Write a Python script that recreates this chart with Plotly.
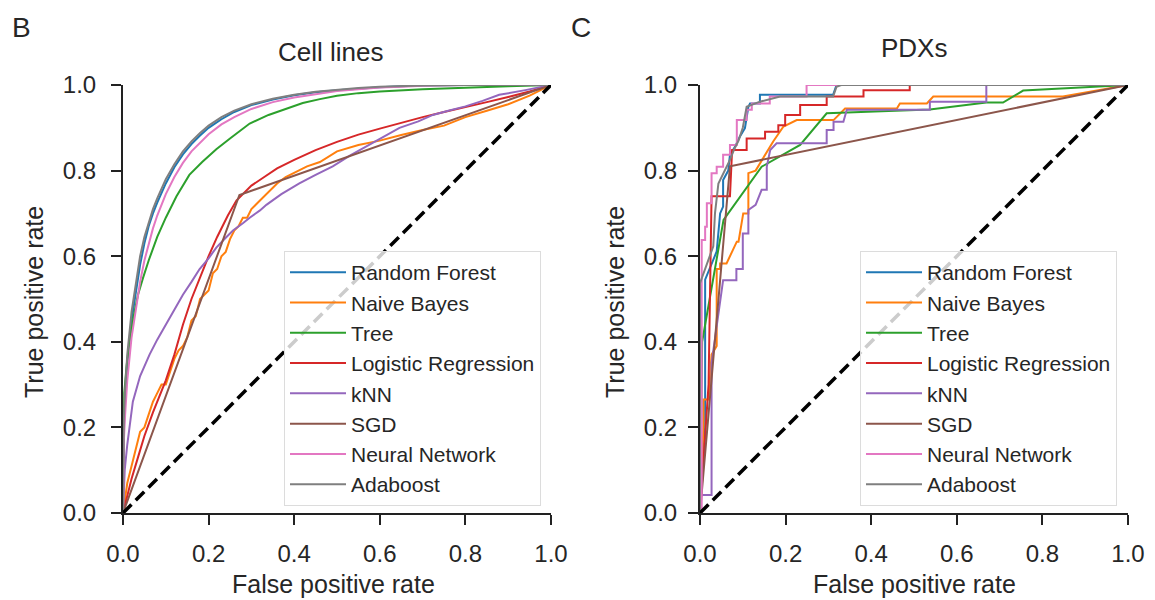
import plotly.graph_objects as go

# ---------------- data ----------------
model_names = ["Random Forest", "Naive Bayes", "Tree", "Logistic Regression",
               "kNN", "SGD", "Neural Network", "Adaboost"]
model_colors = ["#1f77b4", "#ff7f0e", "#2ca02c", "#d62728",
                "#9467bd", "#8c564b", "#e377c2", "#7f7f7f"]
tick_vals = [0.0, 0.2, 0.4, 0.6, 0.8, 1.0]
tick_text = ["0.0", "0.2", "0.4", "0.6", "0.8", "1.0"]
panel_titles = ["Cell lines", "PDXs"]
panel_letters = ["B", "C"]
x_title = "False positive rate"
y_title = "True positive rate"

# ---- Cell lines ROC curves ----
cell_ens_x = [0, 0.002, 0.005, 0.01, 0.02, 0.03, 0.04, 0.05, 0.06, 0.07, 0.08, 0.1, 0.12, 0.14,
              0.16, 0.18, 0.2, 0.23, 0.26, 0.3, 0.35, 0.4, 0.45, 0.5, 0.55, 0.6, 0.65, 0.7, 0.8, 0.9, 1.0]
cell_ada_y = [0, 0.22, 0.29, 0.37, 0.47, 0.54, 0.6, 0.645, 0.68, 0.71, 0.735, 0.78, 0.815, 0.845,
              0.868, 0.888, 0.905, 0.925, 0.94, 0.955, 0.968, 0.977, 0.984, 0.989, 0.993, 0.996, 0.998, 0.999, 1.0, 1.0, 1.0]
cell_rf_y = [0, 0.2, 0.27, 0.35, 0.45, 0.52, 0.58, 0.63, 0.67, 0.70, 0.725, 0.77, 0.808, 0.838,
             0.862, 0.882, 0.9, 0.92, 0.937, 0.953, 0.966, 0.976, 0.983, 0.988, 0.992, 0.995, 0.997, 0.999, 1.0, 1.0, 1.0]
cell_nn_y = [0, 0.17, 0.23, 0.31, 0.41, 0.48, 0.54, 0.59, 0.63, 0.665, 0.695, 0.745, 0.785, 0.818,
             0.845, 0.866, 0.885, 0.908, 0.925, 0.944, 0.96, 0.971, 0.979, 0.986, 0.99, 0.994, 0.996, 0.998, 1.0, 1.0, 1.0]
cell_tree_x = [0, 0.003, 0.008, 0.015, 0.025, 0.035, 0.047, 0.06, 0.08, 0.1, 0.125, 0.155, 0.185, 0.218,
               0.25, 0.296, 0.34, 0.381, 0.42, 0.46, 0.5, 0.55, 0.6, 0.7, 0.8, 0.9, 1.0]
cell_tree_y = [0, 0.28, 0.34, 0.40, 0.46, 0.51, 0.55, 0.59, 0.645, 0.69, 0.74, 0.79, 0.82, 0.85,
               0.875, 0.91, 0.93, 0.945, 0.958, 0.967, 0.975, 0.981, 0.985, 0.99, 0.994, 0.997, 1.0]
cell_lr_x = [0, 0.01, 0.02, 0.035, 0.05, 0.07, 0.1, 0.12, 0.14, 0.16, 0.18, 0.2, 0.22, 0.245, 0.265,
             0.28, 0.3, 0.33, 0.36, 0.4, 0.45, 0.5, 0.55, 0.6, 0.65, 0.7, 0.75, 0.8, 0.85, 0.9, 0.95, 1.0]
cell_lr_y = [0, 0.04, 0.08, 0.13, 0.18, 0.235, 0.31, 0.37, 0.44, 0.5, 0.55, 0.6, 0.645, 0.695, 0.73,
             0.745, 0.765, 0.785, 0.805, 0.825, 0.848, 0.867, 0.884, 0.898, 0.912, 0.925, 0.937, 0.948, 0.96, 0.972, 0.985, 1.0]
cell_nb_x = [0, 0.005, 0.01, 0.02, 0.03, 0.04, 0.05, 0.06, 0.07, 0.08, 0.09, 0.1, 0.11, 0.12, 0.13, 0.14,
             0.15, 0.16, 0.17, 0.18, 0.19, 0.2, 0.21, 0.22, 0.23, 0.24, 0.25, 0.26, 0.27, 0.28, 0.29, 0.3,
             0.32, 0.34, 0.36, 0.38, 0.4, 0.43, 0.46, 0.5, 0.55, 0.6, 0.65, 0.7, 0.75, 0.8, 0.85, 0.9, 0.95, 1.0]
cell_nb_y = [0, 0.04, 0.07, 0.11, 0.15, 0.19, 0.2, 0.23, 0.26, 0.28, 0.3, 0.3, 0.33, 0.36, 0.38, 0.39,
             0.41, 0.45, 0.46, 0.5, 0.51, 0.52, 0.56, 0.57, 0.6, 0.61, 0.64, 0.66, 0.67, 0.69, 0.69, 0.71,
             0.73, 0.75, 0.77, 0.785, 0.795, 0.81, 0.82, 0.845, 0.86, 0.87, 0.883, 0.895, 0.905, 0.925, 0.94, 0.955, 0.975, 1.0]
cell_knn_x = [0, 0.002, 0.004, 0.01, 0.023, 0.04, 0.062, 0.08, 0.1, 0.12, 0.14, 0.16, 0.179, 0.2, 0.218,
              0.24, 0.257, 0.28, 0.296, 0.32, 0.335, 0.37, 0.412, 0.45, 0.49, 0.53, 0.568, 0.6, 0.646,
              0.69, 0.724, 0.76, 0.8, 0.84, 0.879, 0.94, 1.0]
cell_knn_y = [0, 0.06, 0.1, 0.16, 0.26, 0.32, 0.37, 0.405, 0.44, 0.475, 0.51, 0.54, 0.57, 0.595, 0.62,
              0.643, 0.66, 0.677, 0.69, 0.707, 0.72, 0.745, 0.77, 0.79, 0.81, 0.835, 0.856, 0.875, 0.9,
              0.915, 0.93, 0.94, 0.95, 0.963, 0.977, 0.988, 1.0]
cell_sgd_x = [0, 0.272, 1.0]
cell_sgd_y = [0, 0.743, 1.0]

# ---- PDX ROC curves ----
pdx_rf_x = [0, 0.005, 0.012, 0.012, 0.039, 0.047, 0.054, 0.054, 0.066, 0.07, 0.082, 0.093, 0.105,
            0.113, 0.117, 0.14, 0.14, 0.311, 0.319, 1.0]
pdx_rf_y = [0, 0.1, 0.2, 0.545, 0.611, 0.70, 0.716, 0.778, 0.80, 0.837, 0.856, 0.879, 0.899,
            0.949, 0.957, 0.957, 0.977, 0.977, 1.0, 1.0]
pdx_nb_x = [0, 0.008, 0.008, 0.02, 0.027, 0.039, 0.039, 0.047, 0.047, 0.062, 0.086, 0.09, 0.101,
            0.113, 0.113, 0.13, 0.171, 0.195, 0.226, 0.312, 0.339, 0.46, 0.467, 0.53, 0.545, 0.848, 1.0]
pdx_nb_y = [0, 0.2, 0.265, 0.265, 0.37, 0.39, 0.57, 0.57, 0.583, 0.583, 0.634, 0.634, 0.70,
            0.70, 0.794, 0.80, 0.868, 0.903, 0.918, 0.918, 0.945, 0.945, 0.957, 0.957, 0.973, 0.973, 1.0]
pdx_tree_x = [0, 0.005, 0.055, 0.144, 0.234, 0.296, 0.537, 0.669, 0.708, 0.755, 1.0]
pdx_tree_y = [0, 0.40, 0.685, 0.809, 0.86, 0.934, 0.943, 0.959, 0.959, 0.987, 1.0]
pdx_lr_x = [0, 0.02, 0.027, 0.07, 0.075, 0.109, 0.109, 0.152, 0.152, 0.183, 0.183, 0.199, 0.199,
            0.234, 0.234, 0.296, 0.296, 0.382, 0.382, 0.49, 0.49, 1.0]
pdx_lr_y = [0, 0.3, 0.74, 0.74, 0.848, 0.848, 0.875, 0.875, 0.891, 0.891, 0.906, 0.906, 0.93,
            0.93, 0.953, 0.953, 0.973, 0.973, 0.988, 0.988, 1.0, 1.0]
pdx_knn_x = [0, 0, 0.027, 0.027, 0.054, 0.085, 0.085, 0.1, 0.1, 0.113, 0.113, 0.13, 0.144, 0.156,
             0.156, 0.164, 0.179, 0.296, 0.296, 0.312, 0.312, 0.335, 0.343, 0.537, 0.537, 0.669, 0.669, 1.0]
pdx_knn_y = [0, 0.042, 0.042, 0.35, 0.544, 0.544, 0.57, 0.57, 0.653, 0.653, 0.708, 0.72, 0.755, 0.755,
             0.809, 0.848, 0.864, 0.864, 0.895, 0.895, 0.914, 0.914, 0.942, 0.942, 0.961, 0.961, 1.0, 1.0]
pdx_sgd_x = [0, 0.07, 1.0]
pdx_sgd_y = [0, 0.81, 1.0]
pdx_nn_x = [0, 0.004, 0.004, 0.012, 0.012, 0.016, 0.016, 0.027, 0.027, 0.039, 0.039, 0.054, 0.054,
            0.07, 0.07, 0.086, 0.086, 0.109, 0.109, 0.121, 0.121, 0.163, 0.163, 0.249, 0.249, 1.0]
pdx_nn_y = [0, 0.0, 0.638, 0.638, 0.669, 0.669, 0.724, 0.724, 0.794, 0.794, 0.809, 0.809, 0.837,
            0.837, 0.86, 0.86, 0.918, 0.918, 0.942, 0.942, 0.957, 0.957, 0.973, 0.973, 1.0, 1.0]
pdx_ada_x = [0, 0, 0.031, 0.035, 0.043, 0.07, 0.08, 0.09, 0.1, 0.109, 0.14, 0.187, 0.311, 0.319, 0.33, 1.0]
pdx_ada_y = [0, 0.537, 0.623, 0.70, 0.77, 0.825, 0.85, 0.87, 0.9, 0.949, 0.961, 0.973, 0.973, 0.996, 1.0, 1.0]

diag_x = [0, 1]
diag_y = [0, 1]

cell_curves = [(cell_ens_x, cell_rf_y), (cell_nb_x, cell_nb_y), (cell_tree_x, cell_tree_y),
               (cell_lr_x, cell_lr_y), (cell_knn_x, cell_knn_y), (cell_sgd_x, cell_sgd_y),
               (cell_ens_x, cell_nn_y), (cell_ens_x, cell_ada_y)]
pdx_curves = [(pdx_rf_x, pdx_rf_y), (pdx_nb_x, pdx_nb_y), (pdx_tree_x, pdx_tree_y),
              (pdx_lr_x, pdx_lr_y), (pdx_knn_x, pdx_knn_y), (pdx_sgd_x, pdx_sgd_y),
              (pdx_nn_x, pdx_nn_y), (pdx_ada_x, pdx_ada_y)]

# ---------------- figure ----------------
OFF = 8                      # page body margin of the html page
W, H = 1155 - OFF, 600 - OFF
FONT = "Liberation Sans, Arial, Helvetica, sans-serif"
TXT = "#262626"

fig = go.Figure()

for panel, curves in enumerate([cell_curves, pdx_curves]):
    xa = "x" if panel == 0 else "x2"
    ya = "y" if panel == 0 else "y2"
    lg = "legend" if panel == 0 else "legend2"
    for i, (xs, ys) in enumerate(curves):
        fig.add_trace(go.Scatter(
            x=xs, y=ys, mode="lines", name=model_names[i],
            line=dict(color=model_colors[i], width=2),
            xaxis=xa, yaxis=ya, legend=lg, showlegend=True))
    fig.add_trace(go.Scatter(
        x=diag_x, y=diag_y, mode="lines",
        line=dict(color="black", width=3.5, dash="12px,6px"),
        xaxis=xa, yaxis=ya, showlegend=False, hoverinfo="skip"))


def px_x(p):
    return (p - OFF) / W


def px_y(p):
    return 1 - (p - OFF) / H


ydom = [px_y(513), px_y(85)]
axis_common = dict(
    range=[0, 1], tickvals=tick_vals, ticktext=tick_text, automargin=False,
    showgrid=False, zeroline=False, showline=True, linewidth=2, linecolor="#222222",
    ticks="outside", ticklen=10, tickwidth=2, tickcolor="#222222",
    tickfont=dict(family=FONT, size=24, color=TXT), fixedrange=True,
)

legend_common = dict(
    bgcolor="rgba(255,255,255,0.8)", bordercolor="#dcdcdc", borderwidth=1,
    font=dict(family=FONT, size=21, color=TXT), xanchor="left", yanchor="top",
    itemwidth=56,
)

fig.update_layout(
    template="none",
    width=W, height=H,
    margin=dict(l=0, r=0, t=0, b=0, pad=0, autoexpand=False),
    paper_bgcolor="white", plot_bgcolor="white",
    xaxis=dict(domain=[px_x(123), px_x(551)], anchor="y", ticklabelstandoff=8, **axis_common),
    yaxis=dict(domain=ydom, anchor="x", ticklabelstandoff=10, **axis_common),
    xaxis2=dict(domain=[px_x(700), px_x(1128)], anchor="y2", ticklabelstandoff=8, **axis_common),
    yaxis2=dict(domain=ydom, anchor="x2", ticklabelstandoff=6, **axis_common),
    legend=dict(x=px_x(284), y=px_y(251), **legend_common),
    legend2=dict(x=px_x(860), y=px_y(251), **legend_common),
    showlegend=True,
)

ann = []
# panel letters
for letter, xp in zip(panel_letters, [21, 581]):
    ann.append(dict(text=letter, x=px_x(xp), y=px_y(28), xref="paper", yref="paper",
                    xanchor="center", yanchor="middle", showarrow=False,
                    font=dict(family=FONT, size=28, color=TXT)))
# titles
for title, xp, yp in zip(panel_titles, [331, 914], [52, 48]):
    ann.append(dict(text=title, x=px_x(xp), y=px_y(yp), xref="paper", yref="paper",
                    xanchor="center", yanchor="middle", showarrow=False,
                    font=dict(family=FONT, size=26, color=TXT)))
# axis titles
for xp in [333, 914]:
    ann.append(dict(text=x_title, x=px_x(xp), y=px_y(584), xref="paper", yref="paper",
                    xanchor="center", yanchor="middle", showarrow=False,
                    font=dict(family=FONT, size=25, color=TXT)))
for xp in [34, 615]:
    ann.append(dict(text=y_title, x=px_x(xp), y=px_y(302), xref="paper", yref="paper",
                    xanchor="center", yanchor="middle", showarrow=False, textangle=-90,
                    font=dict(family=FONT, size=25, color=TXT)))
fig.update_layout(annotations=ann)

fig.write_html("out.html")
